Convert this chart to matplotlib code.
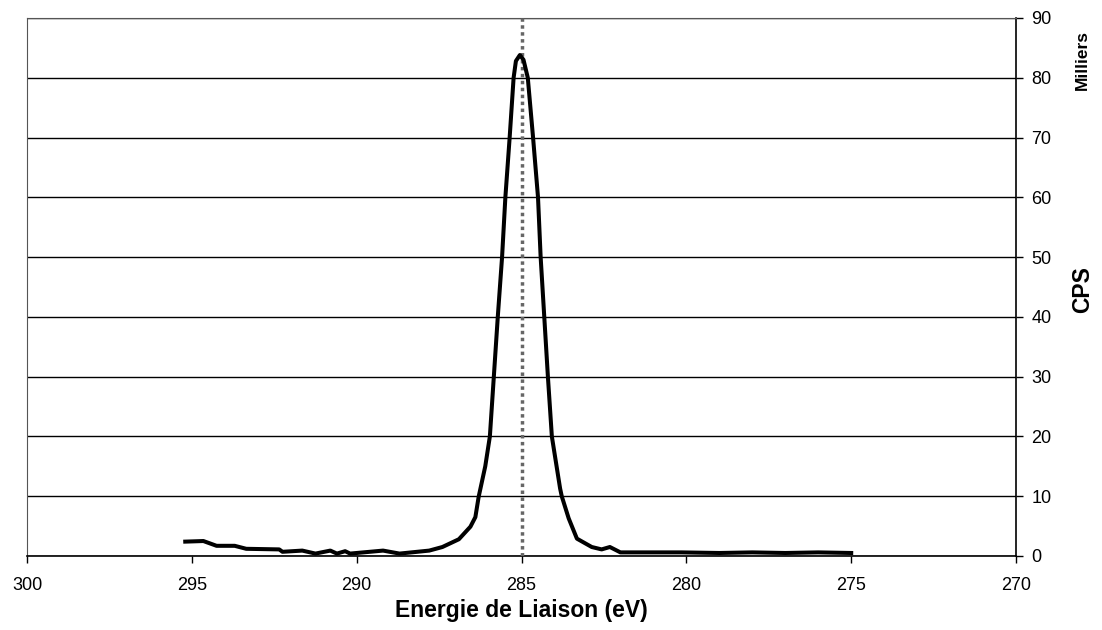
import numpy as np
import matplotlib.pyplot as plt

plt.rcParams['font.family'] = ['Liberation Sans', 'DejaVu Sans']

# Spectre XPS (énergie en eV, CPS en milliers)
energie = [295.2, 294.65, 294.25, 293.7, 293.35, 292.35, 292.25, 291.65, 291.25,
           290.8, 290.6, 290.35, 290.2, 289.2, 288.7, 287.8, 287.4, 286.9,
           286.55, 286.4, 286.3, 286.1, 285.96, 285.84, 285.72, 285.59, 285.49,
           285.36, 285.24, 285.17, 285.05, 284.94, 284.81, 284.65, 284.5,
           284.42, 284.31, 284.2, 284.08, 283.83, 283.78, 283.57, 283.32,
           282.87, 282.57, 282.32, 282.0, 281.2, 280.15, 279.0, 278.0, 277.0,
           276.0, 275.0]
cps = [2.4, 2.5, 1.7, 1.7, 1.2, 1.1, 0.7, 0.9, 0.4,
       0.9, 0.4, 0.8, 0.4, 0.9, 0.4, 0.9, 1.5, 2.8,
       4.9, 6.5, 9.9, 15.0, 20.0, 30.0, 40.0, 50.0, 60.0,
       70.0, 80.0, 82.8, 83.8, 83.0, 80.0, 70.0, 60.0,
       50.0, 40.0, 30.0, 20.0, 11.3, 10.0, 6.3, 2.9,
       1.5, 1.1, 1.5, 0.6, 0.6, 0.6, 0.5, 0.6, 0.5,
       0.6, 0.5]
pic = 285
xticks = [300, 295, 290, 285, 280, 275, 270]
yticks = [0, 10, 20, 30, 40, 50, 60, 70, 80, 90]

fig = plt.figure(figsize=(11.02, 6.3), dpi=100)
ax = fig.add_axes([0.0245, 0.1175, 0.8975, 0.854])

ax.set_xlim(300, 270)
ax.set_ylim(0, 90)
ax.set_xticks(xticks)
ax.set_yticks(yticks)
ax.yaxis.grid(True, color='black', linewidth=1)
ax.set_axisbelow(True)

ax.axvline(pic, color='#666666', linewidth=2.5, linestyle=(0, (1, 1)), zorder=3)
ax.plot(energie, cps, color='black', linewidth=2.9, zorder=4)

ax.yaxis.tick_right()
ax.tick_params(axis='both', direction='out', length=5, width=1, labelsize=13, color='black')
ax.tick_params(axis='y', pad=6)
ax.tick_params(axis='x', pad=10)
ax.spines['left'].set_color('#555555')
ax.spines['top'].set_color('#555555')
ax.spines['right'].set_linewidth(1.2)
ax.spines['bottom'].set_linewidth(1.2)

ax.set_xlabel('Energie de Liaison (eV)', fontsize=16.5, fontweight='bold', labelpad=4)
fig.text(0.982, 0.54, 'CPS', rotation=90, fontsize=16.5, fontweight='bold', ha='center', va='center')
fig.text(0.982, 0.905, 'Milliers', rotation=90, fontsize=12.5, fontweight='bold', ha='center', va='center')

fig.savefig('out.png', dpi=100)
